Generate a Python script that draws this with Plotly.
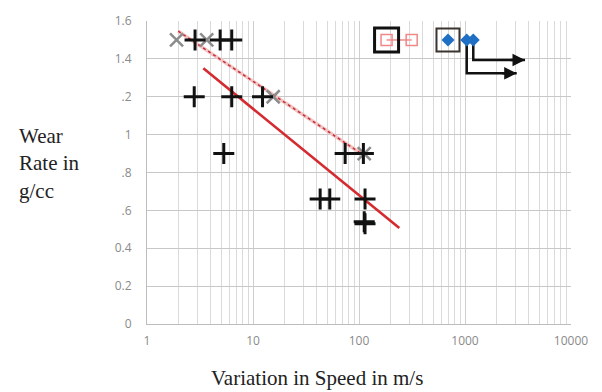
import math
import plotly.graph_objects as go

# ---- data ----
plus_x = [2.84, 4.9, 6.3, 2.79, 6.3, 12.3, 5.3, 74, 110, 43, 53, 114, 112, 114]
plus_y = [1.5, 1.5, 1.5, 1.2, 1.2, 1.2, 0.9, 0.9, 0.9, 0.66, 0.66, 0.66, 0.54, 0.53]

cross_x = [1.9, 3.66, 15.5, 112]
cross_y = [1.5, 1.5, 1.2, 0.9]

solid_trend_x = [3.4, 240]
solid_trend_y = [1.35, 0.507]

dash_trend_x = [1.97, 108]
dash_trend_y = [1.546, 0.895]

pink_x = [182, 314]
pink_y = [1.5, 1.5]

box_x = [182, 691]
box_y = [1.5, 1.5]

diamond_x = [691, 1038, 1197]
diamond_y = [1.5, 1.5, 1.5]

arrow1_x = [1038, 1038, 3075]
arrow1_y = [1.5, 1.324, 1.324]
arrow2_x = [1197, 1197, 3683]
arrow2_y = [1.5, 1.394, 1.394]

x_tickvals = [1, 10, 100, 1000, 10000]
x_ticktext = ["1", "10", "100", "1000", "10000"]
y_tickvals = [0, 0.2, 0.4, 0.6, 0.8, 1.0, 1.2, 1.4, 1.6]
y_ticktext = ["0", "0.2", "0.4", ".6", ".8", "1", ".2", "1.4", "1.6"]

# ---- layout geometry (pixels) ----
W, H = 602, 392
L, R, T, B = 147, 31, 19, 68
PW, PH = W - L - R, H - T - B

def px_to_paper(px, py):
    return (px - L) / PW, (H - B - py) / PH

fig = go.Figure()

fig.add_trace(go.Scatter(x=dash_trend_x, y=dash_trend_y, mode="lines",
                         line=dict(color="#f3c4c4", width=3.5), hoverinfo="skip"))
fig.add_trace(go.Scatter(x=dash_trend_x, y=dash_trend_y, mode="lines",
                         line=dict(color="#c0303a", width=1.5, dash="dot"), hoverinfo="skip"))
fig.add_trace(go.Scatter(x=solid_trend_x, y=solid_trend_y, mode="lines",
                         line=dict(color="#d42a30", width=2.6), hoverinfo="skip"))

fig.add_trace(go.Scatter(x=cross_x, y=cross_y, mode="markers",
                         marker=dict(symbol="x-thin", size=13, color="#8c8c8c",
                                     line=dict(color="#8c8c8c", width=2.5))))
fig.add_trace(go.Scatter(x=plus_x, y=plus_y, mode="markers",
                         marker=dict(symbol="cross-thin", size=15, color="#111111",
                                     line=dict(color="#111111", width=3))))

fig.add_trace(go.Scatter(x=pink_x, y=pink_y, mode="lines+markers",
                         line=dict(color="#f2a5a5", width=2),
                         marker=dict(symbol="square-open", size=11, color="#f08888",
                                     line=dict(width=1.5))))
fig.add_trace(go.Scatter(x=box_x[:1], y=box_y[:1], mode="markers",
                         marker=dict(symbol="square-open", size=24, color="#111111",
                                     line=dict(width=3))))
fig.add_trace(go.Scatter(x=box_x[1:], y=box_y[1:], mode="markers",
                         marker=dict(symbol="square-open", size=23, color="#3a3430",
                                     line=dict(width=2))))
fig.add_trace(go.Scatter(x=arrow1_x, y=arrow1_y, mode="lines",
                         line=dict(color="#111111", width=2.5)))
fig.add_trace(go.Scatter(x=arrow2_x, y=arrow2_y, mode="lines",
                         line=dict(color="#111111", width=2.5)))
fig.add_trace(go.Scatter(x=diamond_x, y=diamond_y, mode="markers",
                         marker=dict(symbol="diamond", size=10, color="#1f6fc4")))

for ax_x, ax_y in ((arrow1_x, arrow1_y), (arrow2_x, arrow2_y)):
    fig.add_annotation(x=math.log10(ax_x[2]), y=ax_y[2], ax=math.log10(ax_x[2]) - 0.15, ay=ax_y[2],
                       xref="x", yref="y", axref="x", ayref="y", text="",
                       showarrow=True, arrowhead=2, arrowsize=1, arrowwidth=2.5,
                       arrowcolor="#111111")

yx, yy = px_to_paper(17, 162)
fig.add_annotation(x=yx, y=yy, xref="paper", yref="paper", xanchor="left", yanchor="middle",
                   align="left", showarrow=False, text="Wear<br>Rate in<br>g/cc",
                   font=dict(family="Liberation Serif", size=21, color="#222222"))
xx, xy = px_to_paper(317, 378)
fig.add_annotation(x=xx, y=xy, xref="paper", yref="paper", xanchor="center", yanchor="middle",
                   showarrow=False, text="Variation in Speed in m/s",
                   font=dict(family="Liberation Serif", size=21, color="#222222"))

fig.update_layout(
    width=W, height=H, margin=dict(l=L, r=R, t=T, b=B),
    plot_bgcolor="white", paper_bgcolor="white", showlegend=False,
    font=dict(family="Open Sans", size=12, color="#8a8a8a"),
)
fig.update_xaxes(type="log", range=[0, 4], tickvals=x_tickvals, ticktext=x_ticktext,
                 showgrid=True, gridcolor="#cfcfcf", gridwidth=1,
                 minor=dict(dtick="D1", showgrid=True, gridcolor="#dadada", gridwidth=1),
                 showline=True, linecolor="#bdbdbd", linewidth=1, mirror=False,
                 ticks="", ticklabelstandoff=6, zeroline=False)
fig.update_yaxes(range=[0, 1.6], tickvals=y_tickvals, ticktext=y_ticktext,
                 showgrid=True, gridcolor="#c8c8c8", gridwidth=1,
                 showline=True, linecolor="#bdbdbd", linewidth=1,
                 ticks="", ticklabelstandoff=12, zeroline=False)

fig.write_html("out.html", config={"displayModeBar": False},
               post_script="document.body.style.margin='0';document.body.style.overflow='hidden';")
